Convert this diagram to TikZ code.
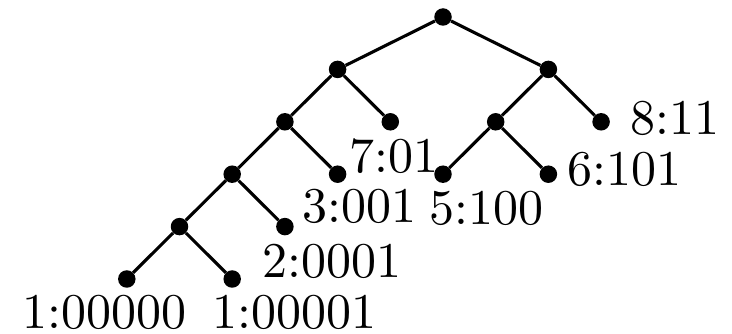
\documentclass[tikz,border=0pt]{standalone}
\usepackage{fontspec}
\newfontfamily\labfont{lmroman10-regular.otf}
\begin{document}
\begin{tikzpicture}[x=1pt,y=-1pt,
  dot/.style={circle,fill=black,inner sep=0pt,minimum size=17.5pt},
  edge/.style={line width=3.1pt},
  lab/.style={anchor=base west,inner sep=0pt,font=\labfont\fontsize{50}{50}\selectfont}]
\useasboundingbox (0,0) rectangle (732,334);
% tree nodes: horizontal step 52.7, vertical step 52.4
\node[dot] (r) at (443,17) {};
\node[dot] (a) at (337.6,69.4) {};
\node[dot] (b) at (548.4,69.4) {};
\node[dot] (c) at (284.9,121.8) {};
\node[dot] (d) at (390.3,121.8) {};
\node[dot] (e) at (495.7,121.8) {};
\node[dot] (f) at (601.1,121.8) {};
\node[dot] (g) at (232.2,174.2) {};
\node[dot] (h) at (337.6,174.2) {};
\node[dot] (i) at (443,174.2) {};
\node[dot] (j) at (548.4,174.2) {};
\node[dot] (k) at (179.5,226.6) {};
\node[dot] (l) at (284.9,226.6) {};
\node[dot] (m) at (126.8,279) {};
\node[dot] (n) at (232.2,279) {};
% edges
\draw[edge] (r) -- (a);
\draw[edge] (r) -- (b);
\draw[edge] (a) -- (c);
\draw[edge] (a) -- (d);
\draw[edge] (b) -- (e);
\draw[edge] (b) -- (f);
\draw[edge] (c) -- (g);
\draw[edge] (c) -- (h);
\draw[edge] (e) -- (i);
\draw[edge] (e) -- (j);
\draw[edge] (g) -- (k);
\draw[edge] (g) -- (l);
\draw[edge] (k) -- (m);
\draw[edge] (k) -- (n);
% leaf labels
\node[lab] (t8) at (630.5,135) {8:11};
\node[lab] (t7) at (349,173) {7:01};
\node[lab] (t6) at (567.5,186) {6:101};
\node[lab] (t5) at (429.5,225) {5:100};
\node[lab] (t3) at (302.5,223) {3:001};
\node[lab] (t2) at (262.5,277) {2:0001};
\node[lab] (t1a) at (22.5,328) {1:00000};
\node[lab] (t1b) at (212.5,328) {1:00001};
\end{tikzpicture}
\end{document}
